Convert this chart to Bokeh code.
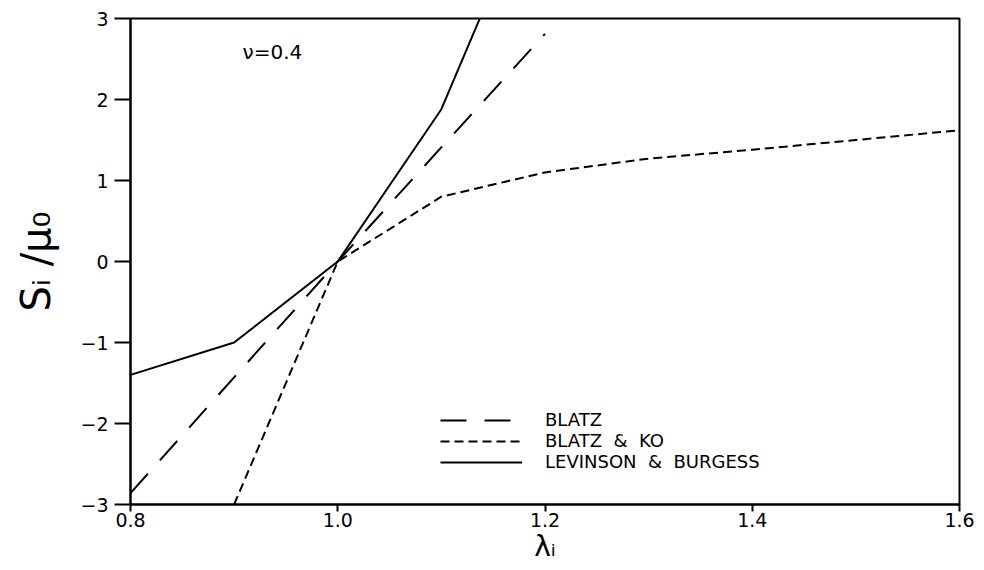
from bokeh.plotting import figure
from bokeh.models import Legend, LegendItem, FixedTicker, CustomJSTickFormatter, Label
from bokeh.embed import file_html
from bokeh.resources import INLINE

# data
lam_blatz = [0.8, 0.9, 1.0, 1.1, 1.2]
s_blatz = [-2.86, -1.43, 0.0, 1.41, 2.81]

lam_ko = [0.9, 1.0, 1.1, 1.2, 1.3, 1.4, 1.5, 1.6]
s_ko = [-3.0, 0.0, 0.80, 1.10, 1.27, 1.38, 1.50, 1.62]

lam_lb = [0.8, 0.9, 1.0, 1.1, 1.2]
s_lb = [-1.40, -1.0, 0.0, 1.88, 4.9]

x_ticks = [0.8, 1.0, 1.2, 1.4, 1.6]
y_ticks = [-3, -2, -1, 0, 1, 2, 3]

FONT = "DejaVu Sans"

p = figure(width=984, height=570, x_range=(0.8, 1.6), y_range=(-3, 3),
           output_backend="svg", toolbar_location=None,
           min_border_left=130, min_border_right=25, min_border_top=18, min_border_bottom=66)

p.xgrid.visible = False
p.ygrid.visible = False
p.outline_line_color = "black"
p.outline_line_width = 2
p.background_fill_color = "white"
p.border_fill_color = "white"

for ax in (p.xaxis[0], p.yaxis[0]):
    ax.axis_line_width = 2
    ax.axis_line_color = "black"
    ax.major_tick_line_width = 2
    ax.major_tick_in = 0
    ax.minor_tick_line_color = None
    ax.major_label_text_font = FONT
    ax.major_label_text_font_size = "19px"
    ax.major_label_text_color = "black"
    ax.axis_label_text_font = FONT
    ax.axis_label_text_font_style = "normal"
    ax.axis_label_text_color = "black"

p.xaxis.major_tick_out = 7
p.yaxis.major_tick_out = 16
p.xaxis.ticker = FixedTicker(ticks=x_ticks)
p.yaxis.ticker = FixedTicker(ticks=y_ticks)
p.xaxis.formatter = CustomJSTickFormatter(code="return tick.toFixed(1);")
p.yaxis.formatter = CustomJSTickFormatter(code="return (tick < 0 ? '\u2212' : '') + Math.abs(tick).toFixed(0);")
p.xaxis.major_label_standoff = 1
p.yaxis.major_label_standoff = 6

p.xaxis.axis_label = "λᵢ"
p.xaxis.axis_label_text_font_size = "28px"
p.xaxis.axis_label_standoff = 0
p.yaxis.axis_label = "Sᵢ /μ₀"
p.yaxis.axis_label_text_font_size = "40px"
p.yaxis.axis_label_standoff = 18

r1 = p.line(lam_blatz, s_blatz, line_color="black", line_width=2, line_dash="26 18")
r2 = p.line(lam_ko, s_ko, line_color="black", line_width=2, line_dash="9 5")
r3 = p.line(lam_lb, s_lb, line_color="black", line_width=2)

legend = Legend(items=[
    LegendItem(label="BLATZ", renderers=[r1]),
    LegendItem(label="BLATZ  &  KO", renderers=[r2]),
    LegendItem(label="LEVINSON  &  BURGESS", renderers=[r3]),
], location=(310, 32))
legend.border_line_alpha = 0
legend.background_fill_alpha = 0
legend.label_text_font = FONT
legend.label_text_font_size = "18px"
legend.label_text_color = "black"
legend.label_height = 20
legend.glyph_height = 20
legend.glyph_width = 82
legend.label_standoff = 23
legend.spacing = 0
legend.padding = 0
legend.margin = 0
legend.label_text_line_height = 1.0
p.add_layout(legend)

nu = Label(x=0.937, y=2.59, text="ν=0.4", text_font=FONT, text_font_size="20px",
           text_baseline="middle", text_align="center", text_color="black")
p.add_layout(nu)

open("out.html", "w").write(file_html(p, INLINE))
